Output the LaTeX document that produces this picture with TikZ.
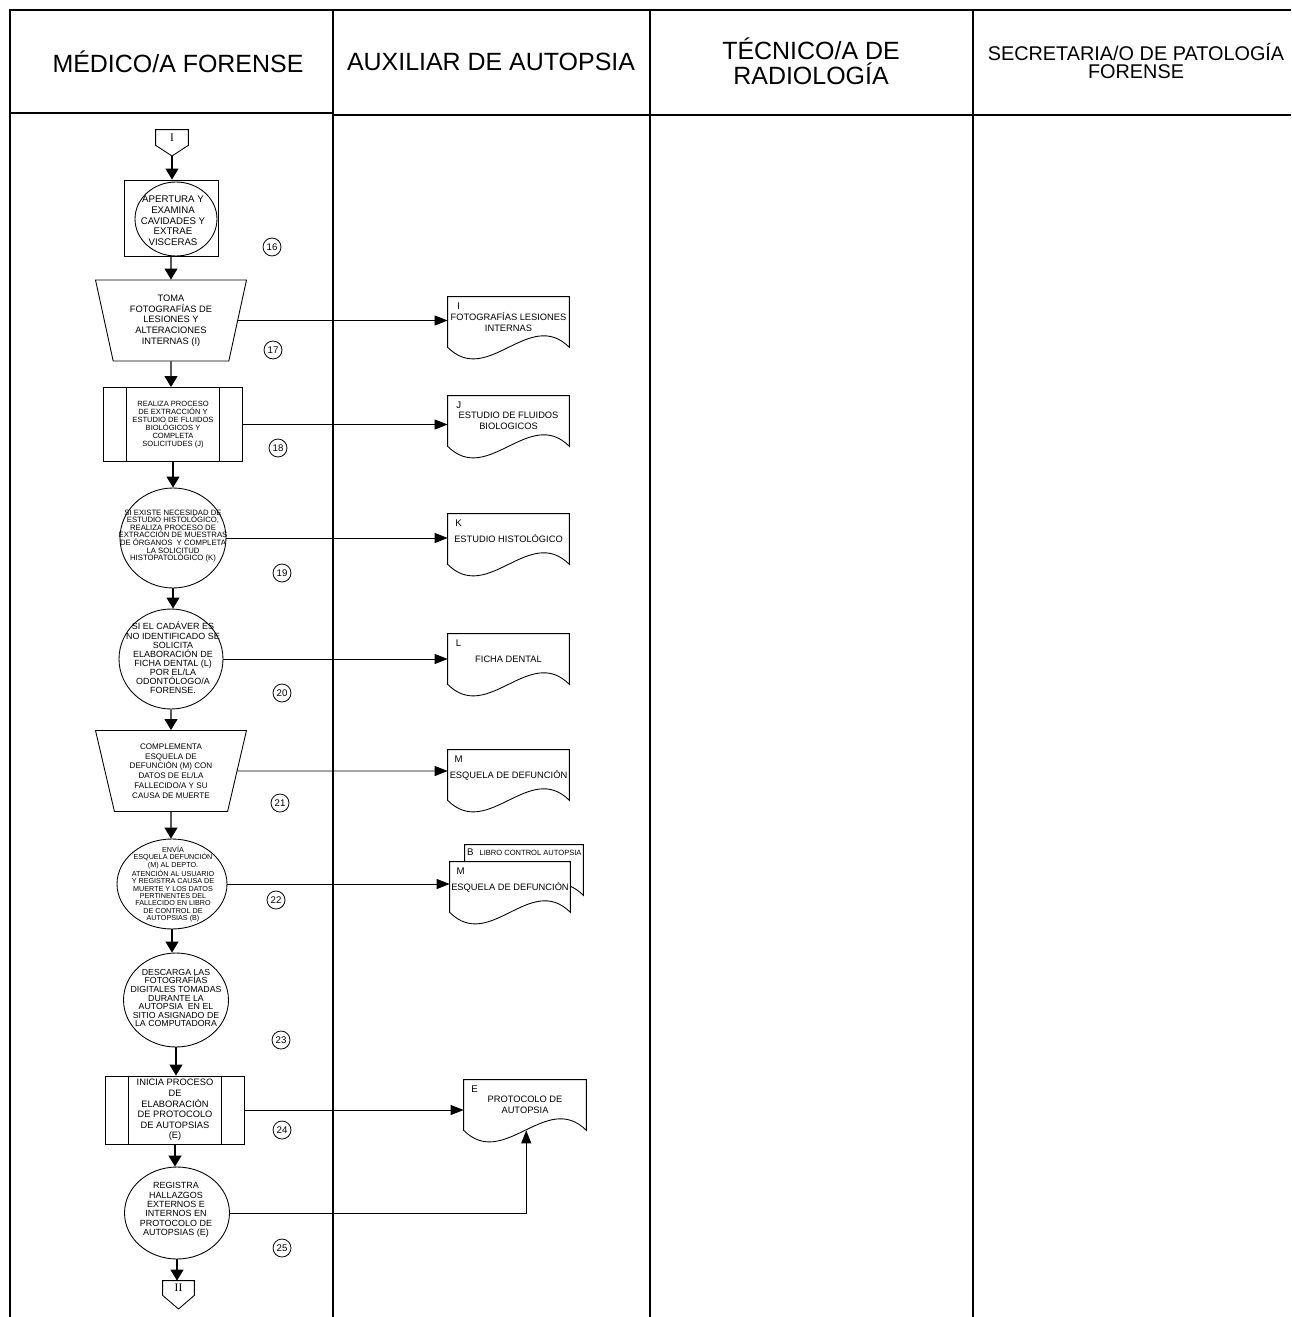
\documentclass[tikz,border=0pt]{standalone}
\usepackage{fontspec}
\setmainfont{Liberation Sans}
\newfontfamily\romfont{Liberation Serif}
\usetikzlibrary{arrows.meta, positioning, calc, shapes.geometric, backgrounds}

\begin{document}
\begin{tikzpicture}[
  x=0.02cm, y=-0.02cm,
  frame/.style={black, line width=0.6pt},
  hdr/.style={align=center, inner sep=0pt, font=\fontsize{14.2}{14.2}\selectfont},
  txt/.style={align=center, inner sep=0pt},
  proc/.style={draw, ellipse, line width=0.5pt, inner sep=0pt},
  boxp/.style={draw, rectangle, line width=0.5pt, inner sep=0pt, align=center},
  manop/.style={draw, trapezium, shape border rotate=180, line width=0.5pt,
                trapezium left angle=71, trapezium right angle=71,
                trapezium stretches body, minimum width=3.02cm,
                minimum height=1.62cm, inner sep=0pt, align=center},
  offpg/.style={inner sep=0pt, minimum width=0.64cm, minimum height=0.3cm,
                font=\romfont\fontsize{6.5}{6.5}\selectfont},
  numc/.style={draw, circle, line width=0.45pt, minimum size=0.36cm,
               inner sep=0pt, font=\fontsize{5.5}{5.5}\selectfont},
  docu/.style={minimum width=2.42cm, minimum height=1cm, inner sep=0pt,
               align=center, font=\fontsize{5.3}{6}\selectfont},
  docid/.style={inner sep=0pt, font=\fontsize{5.5}{5.5}\selectfont},
  docline/.style={draw, line width=0.5pt, fill=white},
  flow/.style={-{Triangle[width=0.26cm, length=0.22cm]}, line width=0.6pt},
  lnk/.style={-{Triangle[width=0.2cm, length=0.26cm]}, line width=0.5pt}
]
  \useasboundingbox (0,0) rectangle (1291,1317);

  % swimlane frame
  \draw[frame] (10,1317) -- (10,10) -- (1291,10);
  \draw[frame] (10,113) -- (333,113);
  \draw[frame] (333,115) -- (1291,115);
  \foreach \x in {333,650,973} \draw[frame] (\x,10) -- (\x,1317);

  \node[hdr] (hMed) at (178,62) {MÉDICO/A FORENSE};
  \node[hdr] (hAux) at (491,62) {AUXILIAR DE AUTOPSIA};
  \node[hdr] (hTec) at (811,61) {TÉCNICO/A DE\\RADIOLOGÍA};
  \node[hdr, font=\fontsize{11.3}{10.3}\selectfont] (hSec) at (1136,61)
    {SECRETARIA/O DE PATOLOGÍA\\FORENSE};

  % forensic doctor lane
  \node[offpg] (in1) at (172,137.5) {I};
  \coordinate (in1p) at (172,156);
  \draw[line width=0.5pt] (in1.north west) -- (in1.north east) -- (in1.south east)
    -- (in1p) -- (in1.south west) -- cycle;

  \node[boxp, minimum width=1.88cm, minimum height=1.52cm] (s16) at (171,218) {};
  \node[proc, minimum width=1.64cm, minimum height=1.48cm] (s16c) at (176,219) {};
  \node[txt, font=\fontsize{5.5}{6.1}\selectfont] (s16t) at (173,221)
    {APERTURA Y\\EXAMINA\\CAVIDADES Y\\EXTRAE\\VISCERAS};

  \node[manop, font=\fontsize{5.3}{6.1}\selectfont] (s17) at (171,320.5)
    {TOMA\\FOTOGRAFÍAS DE\\LESIONES Y\\ALTERACIONES\\INTERNAS (I)};

  \node[boxp, minimum width=2.78cm, minimum height=1.48cm,
        font=\fontsize{4.3}{4.5}\selectfont] (s18) at (173,424.5)
    {REALIZA PROCESO\\DE EXTRACCIÓN Y\\ESTUDIO DE FLUIDOS\\BIOLÓGICOS Y\\COMPLETA\\SOLICITUDES (J)};

  \node[proc, minimum width=2.12cm, minimum height=2cm] (s19) at (173,538) {};
  \node[txt, font=\fontsize{4.4}{4.3}\selectfont] (s19t) at (173,536)
    {SI EXISTE NECESIDAD DE\\ESTUDIO HISTOLÓGICO,\\REALIZA PROCESO DE\\EXTRACCIÓN DE MUESTRAS\\DE ÓRGANOS \ Y COMPLETA\\LA SOLICITUD\\HISTOPATOLÓGICO (K)};

  \node[proc, minimum width=2.08cm, minimum height=2cm] (s20) at (171,659) {};
  \node[txt, font=\fontsize{5.1}{5.2}\selectfont] (s20t) at (173,658)
    {SI EL CADÁVER ES\\NO IDENTIFICADO SE\\SOLICITA\\ELABORACIÓN DE\\FICHA DENTAL (L)\\POR EL/LA\\ODONTÓLOGO/A\\FORENSE.};

  \node[manop, font=\fontsize{4.6}{5.6}\selectfont] (s21) at (171,771)
    {COMPLEMENTA\\ESQUELA DE\\DEFUNCIÓN (M) CON\\DATOS DE EL/LA\\FALLECIDO/A Y SU\\CAUSA DE MUERTE};

  \node[proc, minimum width=2.2cm, minimum height=1.8cm] (s22) at (172,884) {};
  \node[txt, font=\fontsize{4.1}{4.15}\selectfont] (s22t) at (173,884)
    {ENVÍA\\ESQUELA DEFUNCIÓN\\(M) AL DEPTO.\\ATENCIÓN AL USUARIO\\Y REGISTRA CAUSA DE\\MUERTE Y LOS DATOS\\PERTINENTES DEL\\FALLECIDO EN LIBRO\\DE CONTROL DE\\AUTOPSIAS (B)};

  \node[proc, minimum width=2.1cm, minimum height=1.88cm] (s23) at (176,1000) {};
  \node[txt, font=\fontsize{5}{4.9}\selectfont] (s23t) at (176,998)
    {DESCARGA LAS\\FOTOGRAFÍAS\\DIGITALES TOMADAS\\DURANTE LA\\AUTOPSIA \ EN EL\\SITIO ASIGNADO DE\\LA COMPUTADORA};

  \node[boxp, minimum width=2.78cm, minimum height=1.36cm,
        font=\fontsize{5.3}{6}\selectfont] (s24) at (175,1110)
    {INICIA PROCESO\\DE\\ELABORACIÓN\\DE PROTOCOLO\\DE AUTOPSIAS\\(E)};

  \node[proc, minimum width=2.1cm, minimum height=1.84cm] (s25) at (177,1213) {};
  \node[txt, font=\fontsize{5.1}{5.3}\selectfont] (s25t) at (176,1210)
    {REGISTRA\\HALLAZGOS\\EXTERNOS E\\INTERNOS EN\\PROTOCOLO DE\\AUTOPSIAS (E)};

  \node[offpg, minimum width=0.62cm, minimum height=0.28cm] (out2) at (178.5,1288) {II};
  \coordinate (out2p) at (178.5,1309);
  \draw[line width=0.5pt] (out2.north west) -- (out2.north east) -- (out2.south east)
    -- (out2p) -- (out2.south west) -- cycle;

  % inner bars of the predefined processes
  \foreach \p in {s18,s24} {
    \draw[line width=0.5pt] ([xshift=0.46cm]\p.north west) -- ([xshift=0.46cm]\p.south west);
    \draw[line width=0.5pt] ([xshift=-0.46cm]\p.north east) -- ([xshift=-0.46cm]\p.south east);
  }

  % step numbers
  \foreach \n/\x/\y in {16/272/247, 17/273/350, 18/278/448, 19/282/573,
                        20/282/693, 21/280/803, 22/276/900, 23/281/1040,
                        24/282/1130, 25/282/1248}
    \node[numc] (n\n) at (\x,\y) {\n};

  % documents in the autopsy assistant lane
  \node[docu] (dI) at (508.5,322) {FOTOGRAFÍAS LESIONES\\INTERNAS};
  \node[docu] (dJ) at (508.5,421) {ESTUDIO DE FLUIDOS\\BIOLOGICOS};
  \node[docu] (dK) at (508.5,539) {ESTUDIO HISTOLÓGICO};
  \node[docu] (dL) at (508.5,659) {FICHA DENTAL};
  \node[docu] (dM) at (508.5,775) {ESQUELA DE DEFUNCIÓN};
  \node[docu, minimum width=2.36cm] (dB) at (524,870) {};
  \node[docu, minimum width=2.4cm] (dM2) at (510,887) {ESQUELA DE DEFUNCIÓN};
  \node[docu, minimum width=2.44cm] (dE) at (525,1105) {PROTOCOLO DE\\AUTOPSIA};

  \begin{scope}[on background layer]
    \foreach \d in {dI,dJ,dK,dL,dM,dB,dM2,dE}
      \draw[docline] (\d.south west) -- (\d.north west) -- (\d.north east)
        -- (\d.south east) .. controls +(-40,-40) and +(40,40) .. (\d.south west) -- cycle;
  \end{scope}

  \foreach \d/\l in {dI/I, dJ/J, dK/K, dL/L, dM/M, dM2/M, dE/E}
    \node[docid] (l\d) at ([shift={(11,10)}]\d.north west) {\l};
  \node[docid, anchor=west] (ldB) at ([shift={(2,8)}]dB.north west)
    {B\hspace{3.5pt}{\fontsize{4.3}{4.3}\selectfont LIBRO CONTROL AUTOPSIA}};
  \coordinate (eb) at ($(dE.south west)!0.51!(dE.south east)$);

  % connectors
  \draw[flow] (in1p) -- (in1p |- s16.north);
  \draw[flow] (s16) -- (s17);
  \draw[flow] (s20) -- (s21);
  \foreach \a/\b in {s17/s18, s18/s19, s19/s20, s21/s22, s22/s23, s23/s24, s24/s25, s25/out2}
    \draw[flow] (\a) -- (\a |- \b.north);

  \foreach \a/\d in {s17/dI, s18/dJ, s19/dK, s20/dL, s21/dM, s22/dM2, s24/dE}
    \draw[lnk] (\a) -- (\a -| \d.west);
  \draw[lnk] (s25) -| (eb);
\end{tikzpicture}
\end{document}
